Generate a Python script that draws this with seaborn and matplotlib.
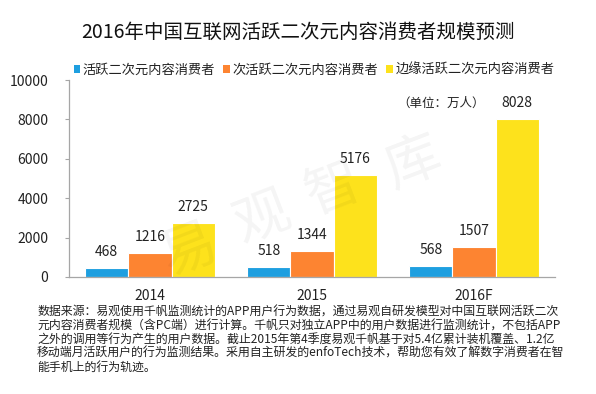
import matplotlib
matplotlib.use("Agg")
import matplotlib.pyplot as plt
import seaborn as sns
import pandas as pd
from matplotlib.patches import Patch

years = ["2014", "2015", "2016F"]
series_names = ["活跃二次元内容消费者", "次活跃二次元内容消费者", "边缘活跃二次元内容消费者"]
active = [468, 518, 568]
sub_active = [1216, 1344, 1507]
edge_active = [2725, 5176, 8028]
yticks = [0, 2000, 4000, 6000, 8000, 10000]
colors = ["#1E9FE0", "#FD8431", "#FDE21C"]

title = "2016年中国互联网活跃二次元内容消费者规模预测"
unit_text = "（单位：万人）"
source_lines = [
    "数据来源：易观使用千帆监测统计的APP用户行为数据，通过易观自研发模型对中国互联网活跃二次",
    "元内容消费者规模（含PC端）进行计算。千帆只对独立APP中的用户数据进行监测统计，不包括APP",
    "之外的调用等行为产生的用户数据。截止2015年第4季度易观千帆基于对5.4亿累计装机覆盖、1.2亿",
    "移动端月活跃用户的行为监测结果。采用自主研发的enfoTech技术，帮助您有效了解数字消费者在智",
    "能手机上的行为轨迹。",
]
watermark = ["易", "观", "智", "库"]

rows = []
for name, vals in zip(series_names, [active, sub_active, edge_active]):
    for y, v in zip(years, vals):
        rows.append({"year": y, "series": name, "value": v})
df = pd.DataFrame(rows)

sns.set_theme(style="white")
plt.rcParams["font.family"] = ["Noto Sans CJK SC", "DejaVu Sans"]

W, H = 596, 394
fig = plt.figure(figsize=(W / 100, H / 100), dpi=100)
ax = fig.add_axes([69 / W, 1 - 277 / H, 486 / W, 197 / H])

sns.barplot(data=df, x="year", y="value", hue="series", order=years,
            hue_order=series_names, palette=colors, width=0.8, saturation=1,
            edgecolor="white", linewidth=0.8, ax=ax, legend=False)

ax.set_ylim(0, 10000)
ax.set_xlim(-0.5, 2.5)
ax.set_yticks(yticks)
ax.set_yticklabels([str(t) for t in yticks], fontsize=10, color="#222222")
ax.tick_params(axis="x", length=0, labelsize=10, labelcolor="#222222", pad=9)
ax.tick_params(axis="y", length=3, width=0.8, color="#A6A6A6", pad=12, left=True)
ax.set_xlabel("")
ax.set_ylabel("")
for s in ["top", "right"]:
    ax.spines[s].set_visible(False)
for s in ["left", "bottom"]:
    ax.spines[s].set_color("#A6A6A6")
    ax.spines[s].set_linewidth(0.9)

for cont in ax.containers:
    for bar in cont:
        h = bar.get_height()
        ax.annotate(f"{int(round(h))}", (bar.get_x() + bar.get_width() / 2, h),
                    xytext=(0, 11.5), textcoords="offset points",
                    ha="center", va="center", fontsize=10, color="#222222")

# watermark
wm_pos = [(190, 250), (262, 218), (334, 190), (413, 163)]
for ch, (px, py) in zip(watermark, wm_pos):
    fig.text(px / W, 1 - py / H, ch, fontsize=40, color="#000000", alpha=0.045,
             rotation=21, ha="center", va="center", zorder=10)

ax.text((441 - 69) / 486, (277 - 103) / 197, unit_text, transform=ax.transAxes,
        ha="center", va="center", fontsize=9, color="#222222")

fig.text(0.5, 1 - 32 / H, title, ha="center", va="center", fontsize=14, color="#111111")

handles = [Patch(facecolor=c, edgecolor="none") for c in colors]
fig.legend(handles, series_names, loc="center", bbox_to_anchor=(314 / W, 1 - 70 / H),
           ncol=3, frameon=False, fontsize=9.5, handlelength=0.5, handleheight=0.5,
           handletextpad=0.2, columnspacing=0.6, borderpad=0, labelcolor="#222222")

for i, line in enumerate(source_lines):
    fig.text(37 / W, 1 - (312 + i * 13.8) / H, line, ha="left", va="center",
             fontsize=8.6, color="#222222")

fig.savefig("out.png", dpi=100)
